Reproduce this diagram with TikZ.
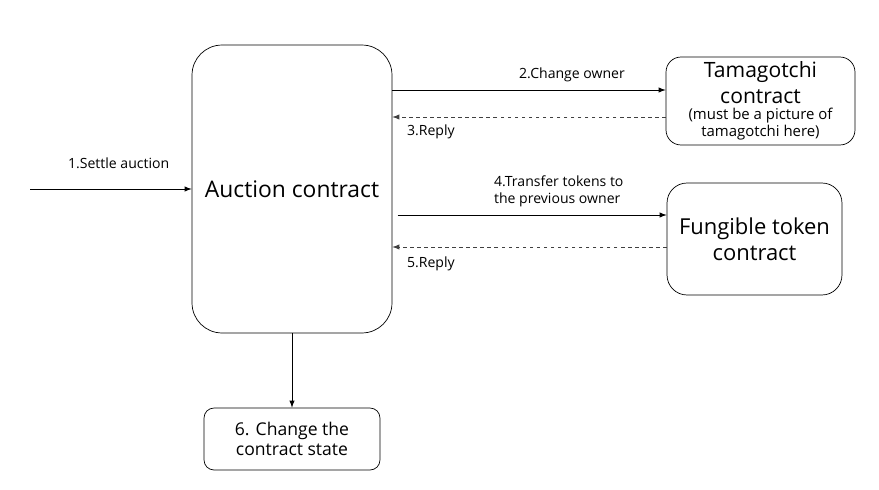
\documentclass[tikz,border=0pt]{standalone}
\usepackage{fontspec}
\setmainfont{Open Sans}
\usetikzlibrary{arrows,positioning,calc}

\begin{document}
\begin{tikzpicture}[
  x=0.02cm, y=-0.02cm,
  > = latex,
  box/.style = {draw, align=center, inner sep=0pt, font=\fontsize{12}{14.5}\selectfont},
  lbl/.style = {font=\fontsize{8}{9.5}\selectfont, align=left, inner sep=1pt},
  reply/.style = {->, black!75, dash pattern=on 2pt off 2pt}
  ]
	\useasboundingbox (0,0) rectangle (879,490);

	\node[box, minimum width=4cm, minimum height=5.76cm, rounded corners=0.6cm, font=\fontsize{13}{15}\selectfont] (auction) at (292,189) {Auction contract};
	\node[box, minimum width=3.78cm, minimum height=1.76cm, rounded corners=0.3cm] (tama) at (760.5,101)
		{Tamagotchi\\contract\\[-5pt]{\fontsize{8.5}{9}\selectfont (must be a picture of}\\[-5pt]{\fontsize{8.5}{9}\selectfont tamagotchi here)}};
	\node[box, minimum width=3.5cm, minimum height=2.24cm, rounded corners=0.4cm, font=\fontsize{12.5}{15}\selectfont] (fungible) at (754.5,239) {Fungible token\\contract};
	\node[box, minimum width=3.52cm, minimum height=1.24cm, rounded corners=0.2cm, font=\fontsize{10}{11.5}\selectfont] (state) at (292,439) {6. Change the\\contract state};

	\coordinate (start) at (30,189);
	\path (tama.west) ++(0,-11) coordinate (in2);
	\path (tama.west) ++(0,16) coordinate (out3);
	\path (fungible.west) ++(0,-24) coordinate (in4);
	\path (fungible.west) ++(0,8) coordinate (out5);

	\draw[->] (start) -- (auction.west);
	\draw[->] (auction.east |- in2) -- (in2);
	\draw[reply] (out3) -- (auction.east |- out3);
	\draw[->] ([xshift=3pt]auction.east |- in4) -- (in4);
	\draw[reply] (out5) -- (auction.east |- out5);
	\draw[->] (auction.south) -- (state.north);

	\node[lbl, anchor=west] (l1) at (66,163) {1.Settle auction};
	\node[lbl] (l2) at (572,75) {2.Change owner};
	\node[lbl, anchor=west] (l3) at (405,132) {3.Reply};
	\node[lbl, anchor=west] (l4) at (492,191) {4.Transfer tokens to\\the previous owner};
	\node[lbl, anchor=west] (l5) at (405,264) {5.Reply};

\end{tikzpicture}
\end{document}
